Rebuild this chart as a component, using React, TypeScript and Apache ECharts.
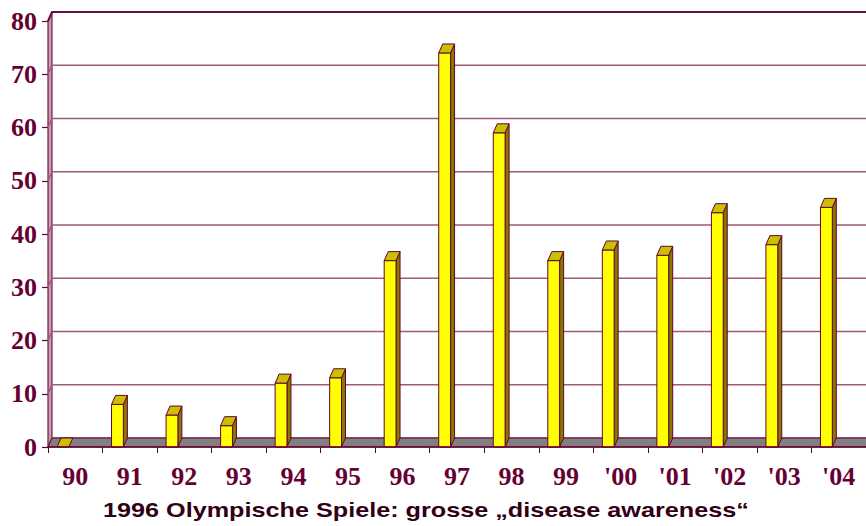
import React, { useEffect, useRef } from "react";
import * as echarts from "echarts";

const categories = ["90", "91", "92", "93", "94", "95", "96", "97", "98", "99", "'00", "'01", "'02", "'03", "'04"];
const values = [0, 8, 6, 4, 12, 13, 35, 74, 59, 35, 37, 36, 44, 38, 45];
const yTicks = [0, 10, 20, 30, 40, 50, 60, 70, 80];
const titleText = "1996 Olympische Spiele: grosse \u201Edisease awareness\u201C";

const DX = 4;
const DY = -9;
const MAROON = "#660033";

export default function App() {
  const ref = useRef<HTMLDivElement>(null);
  useEffect(() => {
    if (!ref.current) return;
    const chart = echarts.init(ref.current, null, { renderer: "svg" });
    const labelFont = {
      fontFamily: "Liberation Serif",
      fontWeight: "bold" as const,
      fontSize: 26,
      color: "#660033",
    };
    chart.setOption({
      animation: false,
      backgroundColor: "#ffffff",
      graphic: [
        {
          type: "text",
          x: 103,
          y: 499,
          scaleX: 1.23,
          z: 100,
          style: {
            text: titleText,
            fontFamily: "Liberation Sans",
            fontWeight: "bold",
            fontSize: 20.5,
            fill: "#300014",
            verticalAlign: "top",
            align: "left",
          },
        },
      ],
      grid: { left: 48, right: -11, top: 21, bottom: 79 },
      xAxis: {
        type: "category",
        data: categories,
        z: 10,
        axisLine: { show: true, lineStyle: { color: MAROON, width: 1.5 } },
        axisTick: { show: true, length: 6, lineStyle: { color: MAROON, width: 1 } },
        axisLabel: { ...labelFont, margin: 16 },
        splitLine: { show: false },
      },
      yAxis: {
        type: "value",
        min: 0,
        max: 80,
        interval: 10,
        axisLine: { show: false },
        axisTick: { show: true, length: 6, lineStyle: { color: MAROON, width: 1.2 } },
        axisLabel: { ...labelFont, margin: 11 },
        splitLine: { show: false },
      },
      series: [
        {
          type: "custom",
          z: 1,
          silent: true,
          data: [[0, 0]],
          encode: { x: 0, y: 1 },
          renderItem: (params: any, api: any) => {
            const cs = params.coordSys;
            const x0 = cs.x;
            const yb = api.coord([0, 0])[1];
            const yt = api.coord([0, 80])[1];
            return {
              type: "polygon",
              shape: {
                points: [
                  [x0, yb],
                  [x0, yt],
                  [x0 + DX, yt + DY],
                  [x0 + DX, yb + DY],
                ],
              },
              style: { fill: "#c79ab2", stroke: "#6e1f4a", lineWidth: 1.2 },
            };
          },
        },
        {
          type: "custom",
          z: 2,
          silent: true,
          data: yTicks.map((v) => [0, v]),
          encode: { x: 0, y: 1 },
          renderItem: (params: any, api: any) => {
            const cs = params.coordSys;
            const x0 = cs.x;
            const xEnd = cs.x + cs.width;
            const v = api.value(1);
            const y = api.coord([0, v])[1];
            const top = v === 80;
            return {
              type: "polyline",
              shape: {
                points: [
                  [x0, y],
                  [x0 + DX, y + DY],
                  [xEnd + DX, y + DY],
                ],
              },
              style: {
                fill: "none",
                stroke: top ? "#6a1040" : "#a0587f",
                lineWidth: top ? 2 : 1.4,
              },
            };
          },
        },
        {
          type: "custom",
          z: 3,
          silent: true,
          data: [[0, 0]],
          encode: { x: 0, y: 1 },
          renderItem: (params: any, api: any) => {
            const cs = params.coordSys;
            const x0 = cs.x;
            const xEnd = cs.x + cs.width;
            const yb = api.coord([0, 0])[1];
            return {
              type: "polygon",
              shape: {
                points: [
                  [x0, yb],
                  [x0 + DX, yb + DY],
                  [xEnd + DX, yb + DY],
                  [xEnd, yb],
                ],
              },
              style: { fill: "#808080", stroke: MAROON, lineWidth: 1 },
            };
          },
        },
        {
          type: "custom",
          z: 4,
          silent: true,
          data: values.map((v, i) => [i, v]),
          encode: { x: 0, y: 1 },
          renderItem: (params: any, api: any) => {
            const idx = api.value(0);
            const v = api.value(1);
            const base = api.coord([idx, 0]);
            const tp = api.coord([idx, v]);
            const band = api.size([1, 0])[0];
            const l = base[0] - band * 0.335;
            const r = l + band * 0.217;
            const yb = base[1];
            const yt = tp[1];
            const stroke = { stroke: MAROON, lineWidth: 1 };
            const children: any[] = [];
            if (v > 0) {
              children.push({
                type: "polygon",
                shape: {
                  points: [
                    [r, yt],
                    [r + DX, yt + DY],
                    [r + DX, yb + DY],
                    [r, yb],
                  ],
                },
                style: { fill: "#857a00", ...stroke },
              });
              children.push({
                type: "rect",
                shape: { x: l, y: yt, width: r - l, height: yb - yt },
                style: { fill: "#ffff00", ...stroke },
              });
            }
            children.push({
              type: "polygon",
              shape: {
                points: [
                  [l, yt],
                  [l + DX, yt + DY],
                  [r + DX, yt + DY],
                  [r, yt],
                ],
              },
              style: { fill: "#c8c000", ...stroke },
            });
            return { type: "group", children };
          },
        },
      ],
    });
    return () => chart.dispose();
  }, []);
  return (
    <div
      ref={ref}
      style={{ position: "fixed", left: 0, top: 0, width: 866, height: 526 }}
    />
  );
}
